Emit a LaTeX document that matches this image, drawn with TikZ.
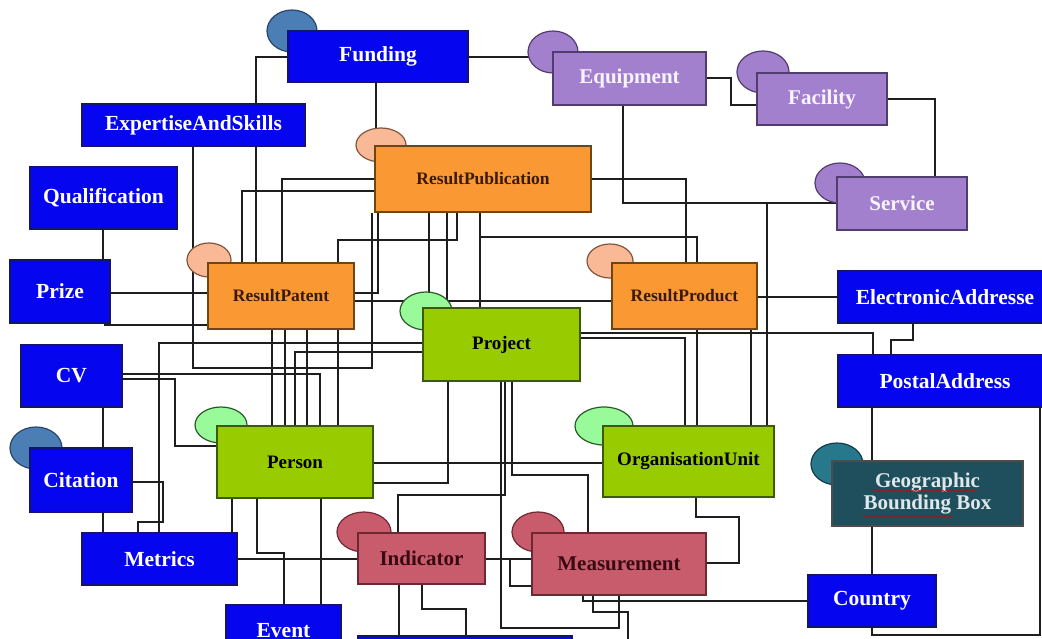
\documentclass[tikz,border=0pt]{standalone}
\usepackage{fontspec}
\setmainfont{Liberation Serif}
\usetikzlibrary{shapes.geometric,decorations.pathmorphing}
\definecolor{cBlue}{RGB}{5,5,240}
\definecolor{cBlueD}{RGB}{20,20,110}
\definecolor{cOrange}{RGB}{250,153,51}
\definecolor{cOrangeD}{RGB}{110,70,20}
\definecolor{cGreen}{RGB}{153,204,0}
\definecolor{cGreenD}{RGB}{60,90,10}
\definecolor{cPurple}{RGB}{163,128,206}
\definecolor{cPurpleD}{RGB}{80,60,110}
\definecolor{cRed}{RGB}{201,92,108}
\definecolor{cRedD}{RGB}{110,40,50}
\definecolor{cSteel}{RGB}{74,126,180}
\definecolor{cPeach}{RGB}{250,185,150}
\definecolor{cLGreen}{RGB}{153,250,153}
\definecolor{cTeal}{RGB}{40,120,140}
\definecolor{cGeo}{RGB}{31,78,92}
\definecolor{cLine}{RGB}{30,30,30}
\pgfdeclarelayer{bg}
\pgfsetlayers{bg,main}
\tikzset{
  conn/.style={draw=cLine, line width=1.5pt},
  ent/.style={draw, line width=1.2pt, inner sep=0pt, align=center},
  bluebox/.style={ent, fill=cBlue, draw=cBlueD, text=white, font=\bfseries\fontsize{21.5}{24}\selectfont},
  orangebox/.style={ent, fill=cOrange, draw=cOrangeD, text={rgb,255:red,58;green,26;blue,5}, font=\bfseries\fontsize{17.5}{20}\selectfont},
  greenbox/.style={ent, fill=cGreen, draw=cGreenD, text=black, font=\bfseries\fontsize{19}{22}\selectfont},
  purplebox/.style={ent, fill=cPurple, draw=cPurpleD, text={rgb,255:red,248;green,244;blue,255}, font=\bfseries\fontsize{21}{24}\selectfont},
  redbox/.style={ent, fill=cRed, draw=cRedD, text={rgb,255:red,58;green,10;blue,18}, font=\bfseries\fontsize{21}{24}\selectfont},
  geobox/.style={ent, fill=cGeo, draw=black!70, text={rgb,255:red,222;green,232;blue,234}, font=\bfseries\fontsize{21}{24}\selectfont},
  bubble/.style={ellipse, inner sep=0pt, line width=1.2pt},
  steelE/.style={bubble, fill=cSteel, draw={rgb,255:red,40;green,70;blue,105}},
  peachE/.style={bubble, fill=cPeach, draw={rgb,255:red,130;green,85;blue,60}},
  lgreenE/.style={bubble, fill=cLGreen, draw={rgb,255:red,40;green,90;blue,40}},
  purpleE/.style={bubble, fill=cPurple, draw=cPurpleD},
  redE/.style={bubble, fill=cRed, draw=cRedD},
  tealE/.style={bubble, fill=cTeal, draw={rgb,255:red,20;green,60;blue,72}},
  spell/.style={draw=red!85!black, line width=0.6pt, decorate, decoration={snake, amplitude=0.7pt, segment length=3pt}}
}
\begin{document}
\begin{tikzpicture}[x=1pt,y=-1pt]
\useasboundingbox (0,0) rectangle (1042,639);
% ellipses
\node[steelE, minimum width=50pt, minimum height=42pt] (fundingE) at (292,31) {};
\node[peachE, minimum width=50pt, minimum height=34pt] (publicationE) at (381,145) {};
\node[purpleE, minimum width=50pt, minimum height=42pt] (equipmentE) at (553,52) {};
\node[purpleE, minimum width=52pt, minimum height=42pt] (facilityE) at (763,72) {};
\node[purpleE, minimum width=50pt, minimum height=40pt] (serviceE) at (840,183) {};
\node[peachE, minimum width=44pt, minimum height=34pt] (patentE) at (209,260) {};
\node[peachE, minimum width=46pt, minimum height=34pt] (productE) at (610,261) {};
\node[lgreenE, minimum width=52pt, minimum height=38pt] (projectE) at (426,311) {};
\node[lgreenE, minimum width=52pt, minimum height=36pt] (personE) at (221,425) {};
\node[lgreenE, minimum width=58pt, minimum height=38pt] (ouE) at (604,426) {};
\node[steelE, minimum width=52pt, minimum height=42pt] (citationE) at (36,448) {};
\node[tealE, minimum width=52pt, minimum height=42pt] (geoE) at (837,464) {};
\node[redE, minimum width=54pt, minimum height=40pt] (indicatorE) at (364,532) {};
\node[redE, minimum width=52pt, minimum height=40pt] (measurementE) at (538,532) {};
% boxes
\node[bluebox, minimum width=180pt, minimum height=51pt] (funding) at (378,56.5) {Funding};
\node[bluebox, minimum width=223pt, minimum height=42pt] (expertise) at (193.5,125) {ExpertiseAndSkills};
\node[bluebox, minimum width=147pt, minimum height=62pt] (qualification) at (103.5,198) {Qualification};
\node[bluebox, minimum width=100pt, minimum height=63pt] (prize) at (60,291.5) {Prize};
\node[bluebox, minimum width=101pt, minimum height=62pt] (cv) at (71.5,376) {CV};
\node[bluebox, minimum width=102pt, minimum height=64pt] (citation) at (81,480) {Citation};
\node[bluebox, minimum width=155pt, minimum height=52pt] (metrics) at (159.5,559) {Metrics};
\node[bluebox, minimum width=115pt, minimum height=55pt] (event) at (283.5,632.5) {\raisebox{5pt}{Event}};
\node[bluebox, minimum width=214pt, minimum height=48pt] (bottombox) at (465,660) {};
\node[orangebox, minimum width=146pt, minimum height=66pt] (patent) at (281,296) {ResultPatent};
\node[orangebox, minimum width=216pt, minimum height=66pt] (publication) at (483,179) {ResultPublication};
\node[orangebox, minimum width=145pt, minimum height=66pt] (product) at (684.5,296) {ResultProduct};
\node[greenbox, minimum width=157pt, minimum height=73pt] (project) at (501.5,344.5) {Project};
\node[greenbox, minimum width=156pt, minimum height=72pt] (person) at (295,462) {Person};
\node[greenbox, minimum width=171pt, minimum height=71pt] (ou) at (688.5,461.5) {OrganisationUnit};
\node[purplebox, minimum width=153pt, minimum height=53pt] (equipment) at (629.5,78.5) {Equipment};
\node[purplebox, minimum width=130pt, minimum height=52pt] (facility) at (822,99) {Facility};
\node[purplebox, minimum width=130pt, minimum height=53pt] (service) at (902,203.5) {Service};
\node[bluebox, minimum width=214pt, minimum height=52pt] (eaddr) at (945,297) {ElectronicAddresse};
\node[bluebox, minimum width=214pt, minimum height=52pt] (paddr) at (945,381) {PostalAddress};
\node[geobox, minimum width=191pt, minimum height=65pt] (geo) at (927.5,493.5) {Geographic\\[-2pt]Bounding Box};
\node[bluebox, minimum width=128pt, minimum height=52pt] (country) at (872,601) {Country};
\node[redbox, minimum width=127pt, minimum height=51pt] (indicator) at (421.5,558.5) {Indicator};
\node[redbox, minimum width=174pt, minimum height=62pt] (measurement) at (619,564) {Measurement};
\coordinate (offbottom) at (628,645);
% spell-check underlines
\draw[spell] (873,491) -- (977,491);
\draw[spell] (863,517) -- (953,517);
% background and connectors
\begin{pgfonlayer}{bg}
\fill[white] (0,0) rectangle (1042,639);
\draw[conn] (funding.west |- 0,57) -- (256,57) -- (256,0 |- patent.north);
\draw[conn] (376,0 |- funding.south) -- (376,0 |- publication.north);
\draw[conn] (funding.east |- 0,57) -- (equipment.west |- 0,57);
\draw[conn] (equipment.east |- 0,78) -- (731,78) -- (731,105) -- (facility.west |- 0,105);
\draw[conn] (facility.east |- 0,99) -- (935,99) -- (935,0 |- service.north);
\draw[conn] (623,0 |- equipment.south) -- (623,203) -- (service.west |- 0,203);
\draw[conn] (service.west |- 0,203) -- (767,203) -- (767,0 |- ou.north);
\draw[conn] (publication.east |- 0,179) -- (686,179) -- (686,0 |- product.north);
\draw[conn] (480,0 |- publication.south) -- (480,237) -- (697,237) -- (697,0 |- product.north);
\draw[conn] (480,0 |- publication.south) -- (480,0 |- project.north);
\draw[conn] (429,0 |- publication.south) -- (429,0 |- project.north);
\draw[conn] (447,0 |- publication.south) -- (447,0 |- project.north);
\draw[conn] (457,0 |- publication.south) -- (457,240) -- (338,240) -- (338,0 |- patent.north);
\draw[conn] (publication.west |- 0,179) -- (282,179) -- (282,0 |- patent.north);
\draw[conn] (publication.west |- 0,191) -- (242,191) -- (242,0 |- patent.north);
\draw[conn] (378,0 |- publication.south) -- (378,293) -- (patent.east |- 0,293);
\draw[conn] (193,0 |- expertise.south) -- (193,368) -- (372,368) -- (372,0 |- publication.south);
\draw[conn] (prize.east |- 0,293) -- (patent.west |- 0,293);
\draw[conn] (105,0 |- prize.south) -- (105,325) -- (patent.west |- 0,325);
\draw[conn] (103,0 |- qualification.south) -- (103,0 |- prize.north);
\draw[conn] (103,0 |- cv.south) -- (103,0 |- citation.north);
\draw[conn] (103,0 |- citation.south) -- (103,0 |- metrics.north);
\draw[conn] (citation.east |- 0,482) -- (163,482) -- (163,522) -- (138,522) -- (138,0 |- metrics.north);
\draw[conn] (project.west |- 0,343) -- (159,343) -- (159,0 |- metrics.north);
\draw[conn] (cv.east |- 0,374) -- (320,374) -- (320,0 |- person.north);
\draw[conn] (cv.east |- 0,379) -- (175,379) -- (175,446) -- (person.west |- 0,446);
\draw[conn] (295,0 |- person.north) -- (295,352) -- (project.west |- 0,352);
\draw[conn] (272,0 |- patent.south) -- (272,0 |- person.north);
\draw[conn] (285,0 |- patent.south) -- (285,0 |- person.north);
\draw[conn] (307,0 |- patent.south) -- (307,0 |- person.north);
\draw[conn] (338,0 |- patent.south) -- (338,0 |- person.north);
\draw[conn] (patent.east |- 0,301) -- (product.west |- 0,301);
\draw[conn] (metrics.east |- 0,559) -- (indicator.west |- 0,559);
\draw[conn] (232,0 |- person.south) -- (232,0 |- metrics.north);
\draw[conn] (257,0 |- person.south) -- (257,553) -- (284,553) -- (284,0 |- event.north);
\draw[conn] (321,0 |- person.south) -- (321,0 |- event.north);
\draw[conn] (person.east |- 0,463) -- (ou.west |- 0,463);
\draw[conn] (person.east |- 0,483) -- (448,483) -- (448,0 |- project.south);
\draw[conn] (501,0 |- project.south) -- (501,628) -- (619,628) -- (619,0 |- measurement.south);
\draw[conn] (512,0 |- project.south) -- (512,475) -- (588,475) -- (588,0 |- measurement.north);
\draw[conn] (398,0 |- indicator.north) -- (398,495) -- (505,495) -- (505,0 |- project.south);
\draw[conn] (indicator.east |- 0,559) -- (measurement.west |- 0,559);
\draw[conn] (indicator.east |- 0,559) -- (510,559) -- (510,586) -- (measurement.west |- 0,586);
\draw[conn] (399,0 |- indicator.south) -- (399,0 |- bottombox.north);
\draw[conn] (422,0 |- indicator.south) -- (422,609) -- (466,609) -- (466,0 |- bottombox.north);
\draw[conn] (583,0 |- measurement.south) -- (583,601) -- (country.west |- 0,601);
\draw[conn] (593,0 |- measurement.south) -- (593,612) -- (628,612) -- (offbottom);
\draw[conn] (measurement.east |- 0,563) -- (739,563) -- (739,517) -- (696,517) -- (696,0 |- ou.south);
\draw[conn] (project.east |- 0,338) -- (685,338) -- (685,0 |- ou.north);
\draw[conn] (project.east |- 0,333) -- (873,333) -- (873,0 |- paddr.north);
\draw[conn] (697,0 |- product.south) -- (697,0 |- ou.north);
\draw[conn] (751,0 |- product.south) -- (751,0 |- ou.north);
\draw[conn] (product.east |- 0,297) -- (eaddr.west |- 0,297);
\draw[conn] (913,0 |- eaddr.south) -- (913,340) -- (891,340) -- (891,0 |- paddr.north);
\draw[conn] (872,0 |- paddr.south) -- (872,0 |- country.north);
\draw[conn] (1040,0 |- paddr.south) -- (1040,635) -- (872,635) -- (872,0 |- country.south);
\end{pgfonlayer}
\end{tikzpicture}
\end{document}
